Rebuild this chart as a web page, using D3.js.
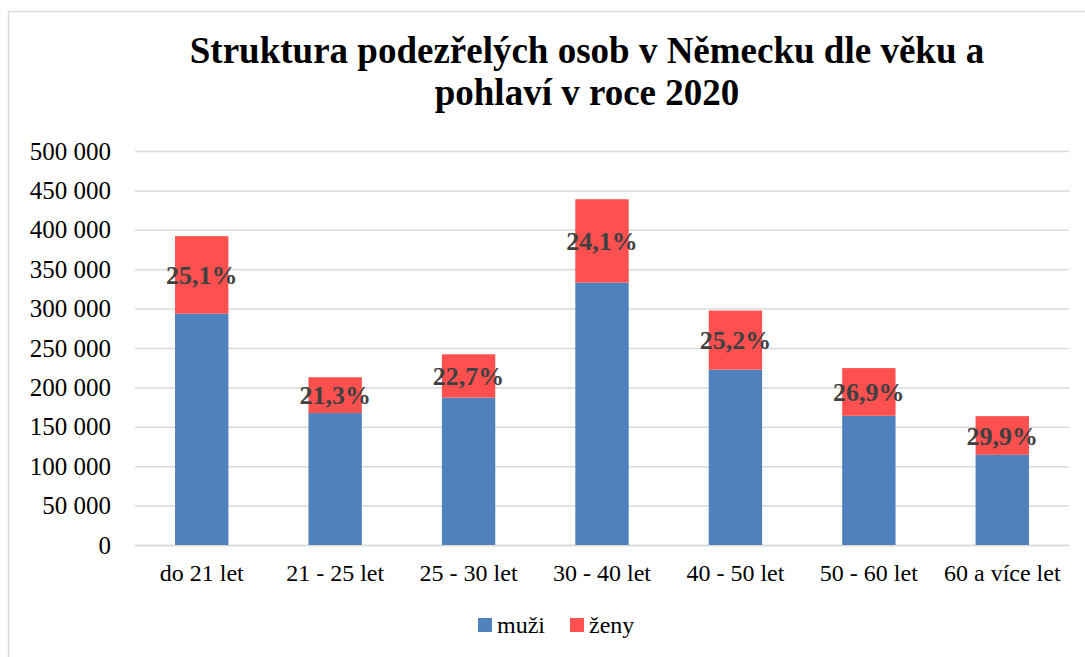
<!DOCTYPE html>
<html>
<head>
<meta charset="utf-8">
<script src="https://cdn.jsdelivr.net/npm/d3@7"></script>
<style>
  body { margin: 0; background: #fff; }
</style>
</head>
<body>
<div class="chart"></div>
<script>
var svgWidth = 1085;
var svgHeight = 657;
var serif = "'Liberation Serif', 'Times New Roman', Times, serif";

// chart data
var categories = ["do 21 let", "21 - 25 let", "25 - 30 let", "30 - 40 let", "40 - 50 let", "50 - 60 let", "60 a více let"];
var muzi = [293500, 167500, 187000, 333000, 222500, 164000, 114500];
var zeny = [98400, 45400, 55000, 105800, 75000, 60500, 49000];
var podilZen = ["25,1%", "21,3%", "22,7%", "24,1%", "25,2%", "26,9%", "29,9%"];
var yTicks = [0, 50000, 100000, 150000, 200000, 250000, 300000, 350000, 400000, 450000, 500000];
var seriesNames = ["muži", "ženy"];
var colors = ["#4f81bd", "#ff5050"];

var plot = { left: 135, right: 1069, top: 151, bottom: 545 };

var svg = d3.select(".chart")
  .append("svg")
  .attr("width", svgWidth)
  .attr("height", svgHeight)
  .style("font-family", serif);

// outer frame
svg.append("rect")
  .attr("x", 8.5)
  .attr("y", 11.5)
  .attr("width", 1100)
  .attr("height", 700)
  .attr("fill", "none")
  .attr("stroke", "#d9d9d9")
  .attr("stroke-width", 1.5);

// title
var title = svg.append("text")
  .attr("text-anchor", "middle")
  .style("font-family", serif)
  .style("font-weight", "bold")
  .style("font-size", "37px")
  .attr("fill", "#000");
title.append("tspan").attr("x", 587).attr("y", 63).text("Struktura podezřelých osob v Německu dle věku a");
title.append("tspan").attr("x", 587).attr("y", 105).text("pohlaví v roce 2020");

var x = d3.scaleBand()
  .domain(categories)
  .range([plot.left, plot.right])
  .paddingInner(0.6)
  .paddingOuter(0.3);

var y = d3.scaleLinear()
  .domain([0, 500000])
  .range([plot.bottom, plot.top]);

// gridlines + y labels
var leftAxis = d3.axisLeft(y)
  .tickValues(yTicks)
  .tickSize(-(plot.right - plot.left))
  .tickPadding(24)
  .tickFormat(d => d3.format(",")(d).replace(/,/g, " "));

var yAxis = svg.append("g")
  .attr("transform", `translate(${plot.left}, 0)`)
  .call(leftAxis)
  .attr("font-family", null)
  .attr("font-size", null);
yAxis.select(".domain").remove();
yAxis.selectAll(".tick line")
  .attr("stroke", "#d9d9d9")
  .attr("stroke-width", 1.5);
yAxis.selectAll(".tick text")
  .style("font-family", serif)
  .style("font-size", "25px")
  .attr("fill", "#000");

// category axis
var bottomAxis = d3.axisBottom(x).tickSize(0).tickPadding(19);
var xAxis = svg.append("g")
  .attr("transform", `translate(0, ${plot.bottom})`)
  .call(bottomAxis)
  .attr("font-family", null)
  .attr("font-size", null);
xAxis.select(".domain").attr("stroke", "#d9d9d9").attr("stroke-width", 1.5);
xAxis.selectAll(".tick text")
  .style("font-family", serif)
  .style("font-size", "24px")
  .attr("fill", "#000");

// stacked bars
var rows = categories.map((c, i) => ({ cat: c, muzi: muzi[i], zeny: zeny[i], label: podilZen[i] }));
var stack = d3.stack().keys(["muzi", "zeny"])(rows);

svg.selectAll(".series")
  .data(stack)
  .enter()
  .append("g")
  .attr("fill", (d, i) => colors[i])
  .selectAll("rect")
  .data(d => d)
  .enter()
  .append("rect")
  .attr("x", d => x(d.data.cat))
  .attr("y", d => y(d[1]))
  .attr("width", x.bandwidth())
  .attr("height", d => y(d[0]) - y(d[1]));

// percentage labels on female part
svg.selectAll(".pct")
  .data(stack[1])
  .enter()
  .append("text")
  .attr("x", d => x(d.data.cat) + x.bandwidth() / 2)
  .attr("y", d => (y(d[0]) + y(d[1])) / 2)
  .attr("dy", "0.35em")
  .attr("text-anchor", "middle")
  .style("font-family", serif)
  .style("font-weight", "bold")
  .style("font-size", "26px")
  .attr("fill", "#404040")
  .text(d => d.data.label);

// legend
var legend = svg.append("g");
var legendX = [478, 570];
seriesNames.forEach(function(name, i) {
  legend.append("rect")
    .attr("x", legendX[i])
    .attr("y", 618)
    .attr("width", 14)
    .attr("height", 14)
    .attr("fill", colors[i]);
  legend.append("text")
    .attr("x", legendX[i] + 19)
    .attr("y", 633)
    .style("font-family", serif)
    .style("font-size", "24px")
    .attr("fill", "#000")
    .text(name);
});
</script>
</body>
</html>
